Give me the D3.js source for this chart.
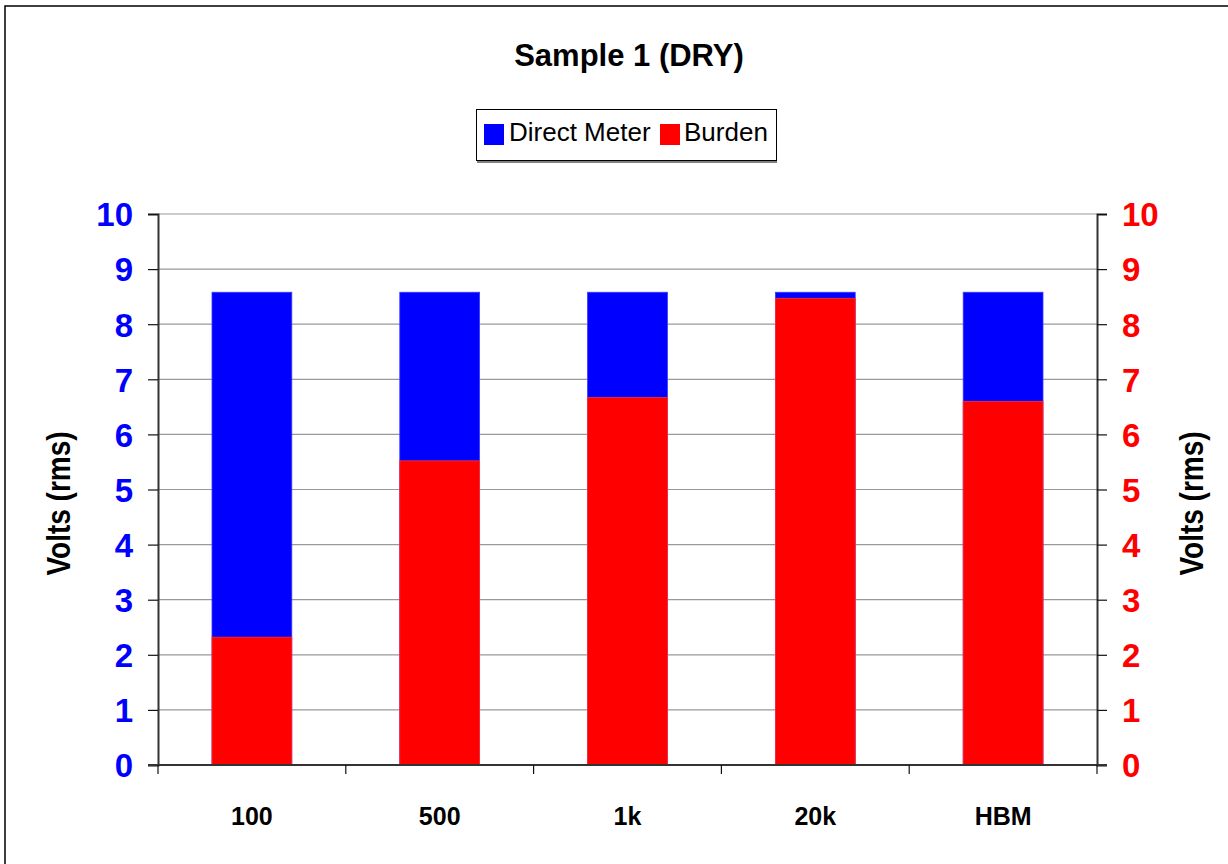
<!DOCTYPE html>
<html>
<head>
<meta charset="utf-8">
<script src="https://cdn.jsdelivr.net/npm/d3@7"></script>
<style>
  html, body { margin: 0; padding: 0; background: #fff; }
  svg { display: block; font-family: Arial, "Liberation Sans", sans-serif; }
</style>
</head>
<body>
<svg id="chart" width="1228" height="864"></svg>
<script>
// Test frequencies / conditions
const categories = ["100", "500", "1k", "20k", "HBM"];
// Volts (rms)
const directMeter = [8.58, 8.58, 8.58, 8.58, 8.58];
const burden = [2.32, 5.52, 6.67, 8.47, 6.6];
const yTicks = [0, 1, 2, 3, 4, 5, 6, 7, 8, 9, 10];

const seriesNames = ["Direct Meter", "Burden"];
const seriesColors = ["#0000ff", "#ff0000"];

const svg = d3.select("#chart");
const W = 1228, H = 864;
const plot = { left: 158, right: 1097, top: 214, bottom: 765 };

// Outer chart frame
svg.append("rect")
  .attr("x", 5).attr("y", 6)
  .attr("width", W + 10).attr("height", H + 10)
  .attr("fill", "#fff").attr("stroke", "#000").attr("stroke-width", 1.5);

const x = d3.scaleBand().domain(categories)
  .range([plot.left, plot.right]).paddingInner(0).paddingOuter(0);
const yL = d3.scaleLinear().domain([0, 10]).range([plot.bottom, plot.top]);
const yR = d3.scaleLinear().domain([0, 10]).range([plot.bottom, plot.top]);

// Horizontal gridlines
svg.append("g").selectAll("line").data(yTicks.filter(d => d > 0)).join("line")
  .attr("x1", plot.left).attr("x2", plot.right)
  .attr("y1", d => yL(d)).attr("y2", d => yL(d))
  .attr("stroke", "#999").attr("stroke-width", 1.2);

// Bars: Burden drawn in front of Direct Meter (full overlap)
const barW = x.bandwidth() * 0.425;
const barsG = svg.append("g");
barsG.selectAll("rect.dm").data(categories).join("rect")
  .attr("class", "dm")
  .attr("x", d => x(d) + (x.bandwidth() - barW) / 2)
  .attr("width", barW)
  .attr("y", (d, i) => yL(directMeter[i]))
  .attr("height", (d, i) => yL(0) - yL(directMeter[i]))
  .attr("fill", seriesColors[0]).attr("stroke", "#3a3aff").attr("stroke-width", 0.8);
barsG.selectAll("rect.bu").data(categories).join("rect")
  .attr("class", "bu")
  .attr("x", d => x(d) + (x.bandwidth() - barW) / 2)
  .attr("width", barW)
  .attr("y", (d, i) => yR(burden[i]))
  .attr("height", (d, i) => yR(0) - yR(burden[i]))
  .attr("fill", seriesColors[1]).attr("stroke", "#ff3030").attr("stroke-width", 0.8);

// Axes
const axisColor = "#333";
const leftAxis = svg.append("g").attr("transform", `translate(${plot.left},0)`)
  .call(d3.axisLeft(yL).tickValues(yTicks).tickSize(10).tickPadding(15).tickFormat(d3.format("d")));
const rightAxis = svg.append("g").attr("transform", `translate(${plot.right},0)`)
  .call(d3.axisRight(yR).tickValues(yTicks).tickSize(10).tickPadding(15).tickFormat(d3.format("d")));
const bottomAxis = svg.append("g").attr("transform", `translate(0,${plot.bottom})`)
  .call(d3.axisBottom(x).tickSize(0).tickPadding(42));

[leftAxis, rightAxis].forEach(g => {
  g.select(".domain").attr("stroke", axisColor).attr("stroke-width", 2);
  g.selectAll(".tick line").attr("stroke", "#111").attr("stroke-width", 1.2);
  g.selectAll(".tick text")
    .attr("font-size", 33).attr("font-weight", "bold")
    .attr("font-family", "Arial, 'Liberation Sans', sans-serif")
    .attr("dy", "0.36em");
});
leftAxis.selectAll(".tick text").attr("fill", seriesColors[0]);
rightAxis.selectAll(".tick text").attr("fill", seriesColors[1]);

bottomAxis.select(".domain").attr("stroke", axisColor).attr("stroke-width", 2)
  .attr("d", `M${plot.left - 10},0H${plot.right + 10}`);
bottomAxis.selectAll(".tick text")
  .attr("font-size", 25).attr("font-weight", "bold").attr("fill", "#000")
  .attr("font-family", "Arial, 'Liberation Sans', sans-serif");

// Category separators below the axis
const edges = categories.map(c => x(c)).concat([plot.right]);
svg.append("g").selectAll("line").data(edges).join("line")
  .attr("x1", d => d).attr("x2", d => d)
  .attr("y1", plot.bottom).attr("y2", plot.bottom + 9)
  .attr("stroke", "#111").attr("stroke-width", 1.2);

// Axis titles (glyphs slightly widened across the text line)
const midY = (plot.top + plot.bottom) / 2 + 14;
[70, 1203].forEach(tx => {
  svg.append("text")
    .attr("transform", `translate(${tx},${midY}) scale(1.2,1) rotate(-90)`)
    .attr("text-anchor", "middle")
    .attr("font-size", 28).attr("font-weight", "bold").attr("fill", "#000")
    .text("Volts (rms)");
});

// Title
svg.append("text")
  .attr("x", 629).attr("y", 66)
  .attr("text-anchor", "middle")
  .attr("font-size", 31).attr("font-weight", "bold").attr("fill", "#000")
  .text("Sample 1 (DRY)");

// Legend
const lg = svg.append("g");
lg.append("rect").attr("x", 477).attr("y", 161).attr("width", 300).attr("height", 2).attr("fill", "#808080");
lg.append("rect").attr("x", 476.5).attr("y", 109.5).attr("width", 300).attr("height", 51)
  .attr("fill", "#fff").attr("stroke", "#000").attr("stroke-width", 1);
const legendItems = [
  { name: seriesNames[0], color: seriesColors[0], sx: 484, tx: 509 },
  { name: seriesNames[1], color: seriesColors[1], sx: 660, tx: 684 }
];
legendItems.forEach(it => {
  lg.append("rect").attr("x", it.sx).attr("y", 124).attr("width", 20).attr("height", 21).attr("fill", it.color);
  lg.append("text").attr("x", it.tx).attr("y", 141)
    .attr("font-size", 26).attr("fill", "#000").text(it.name);
});
</script>
</body>
</html>
